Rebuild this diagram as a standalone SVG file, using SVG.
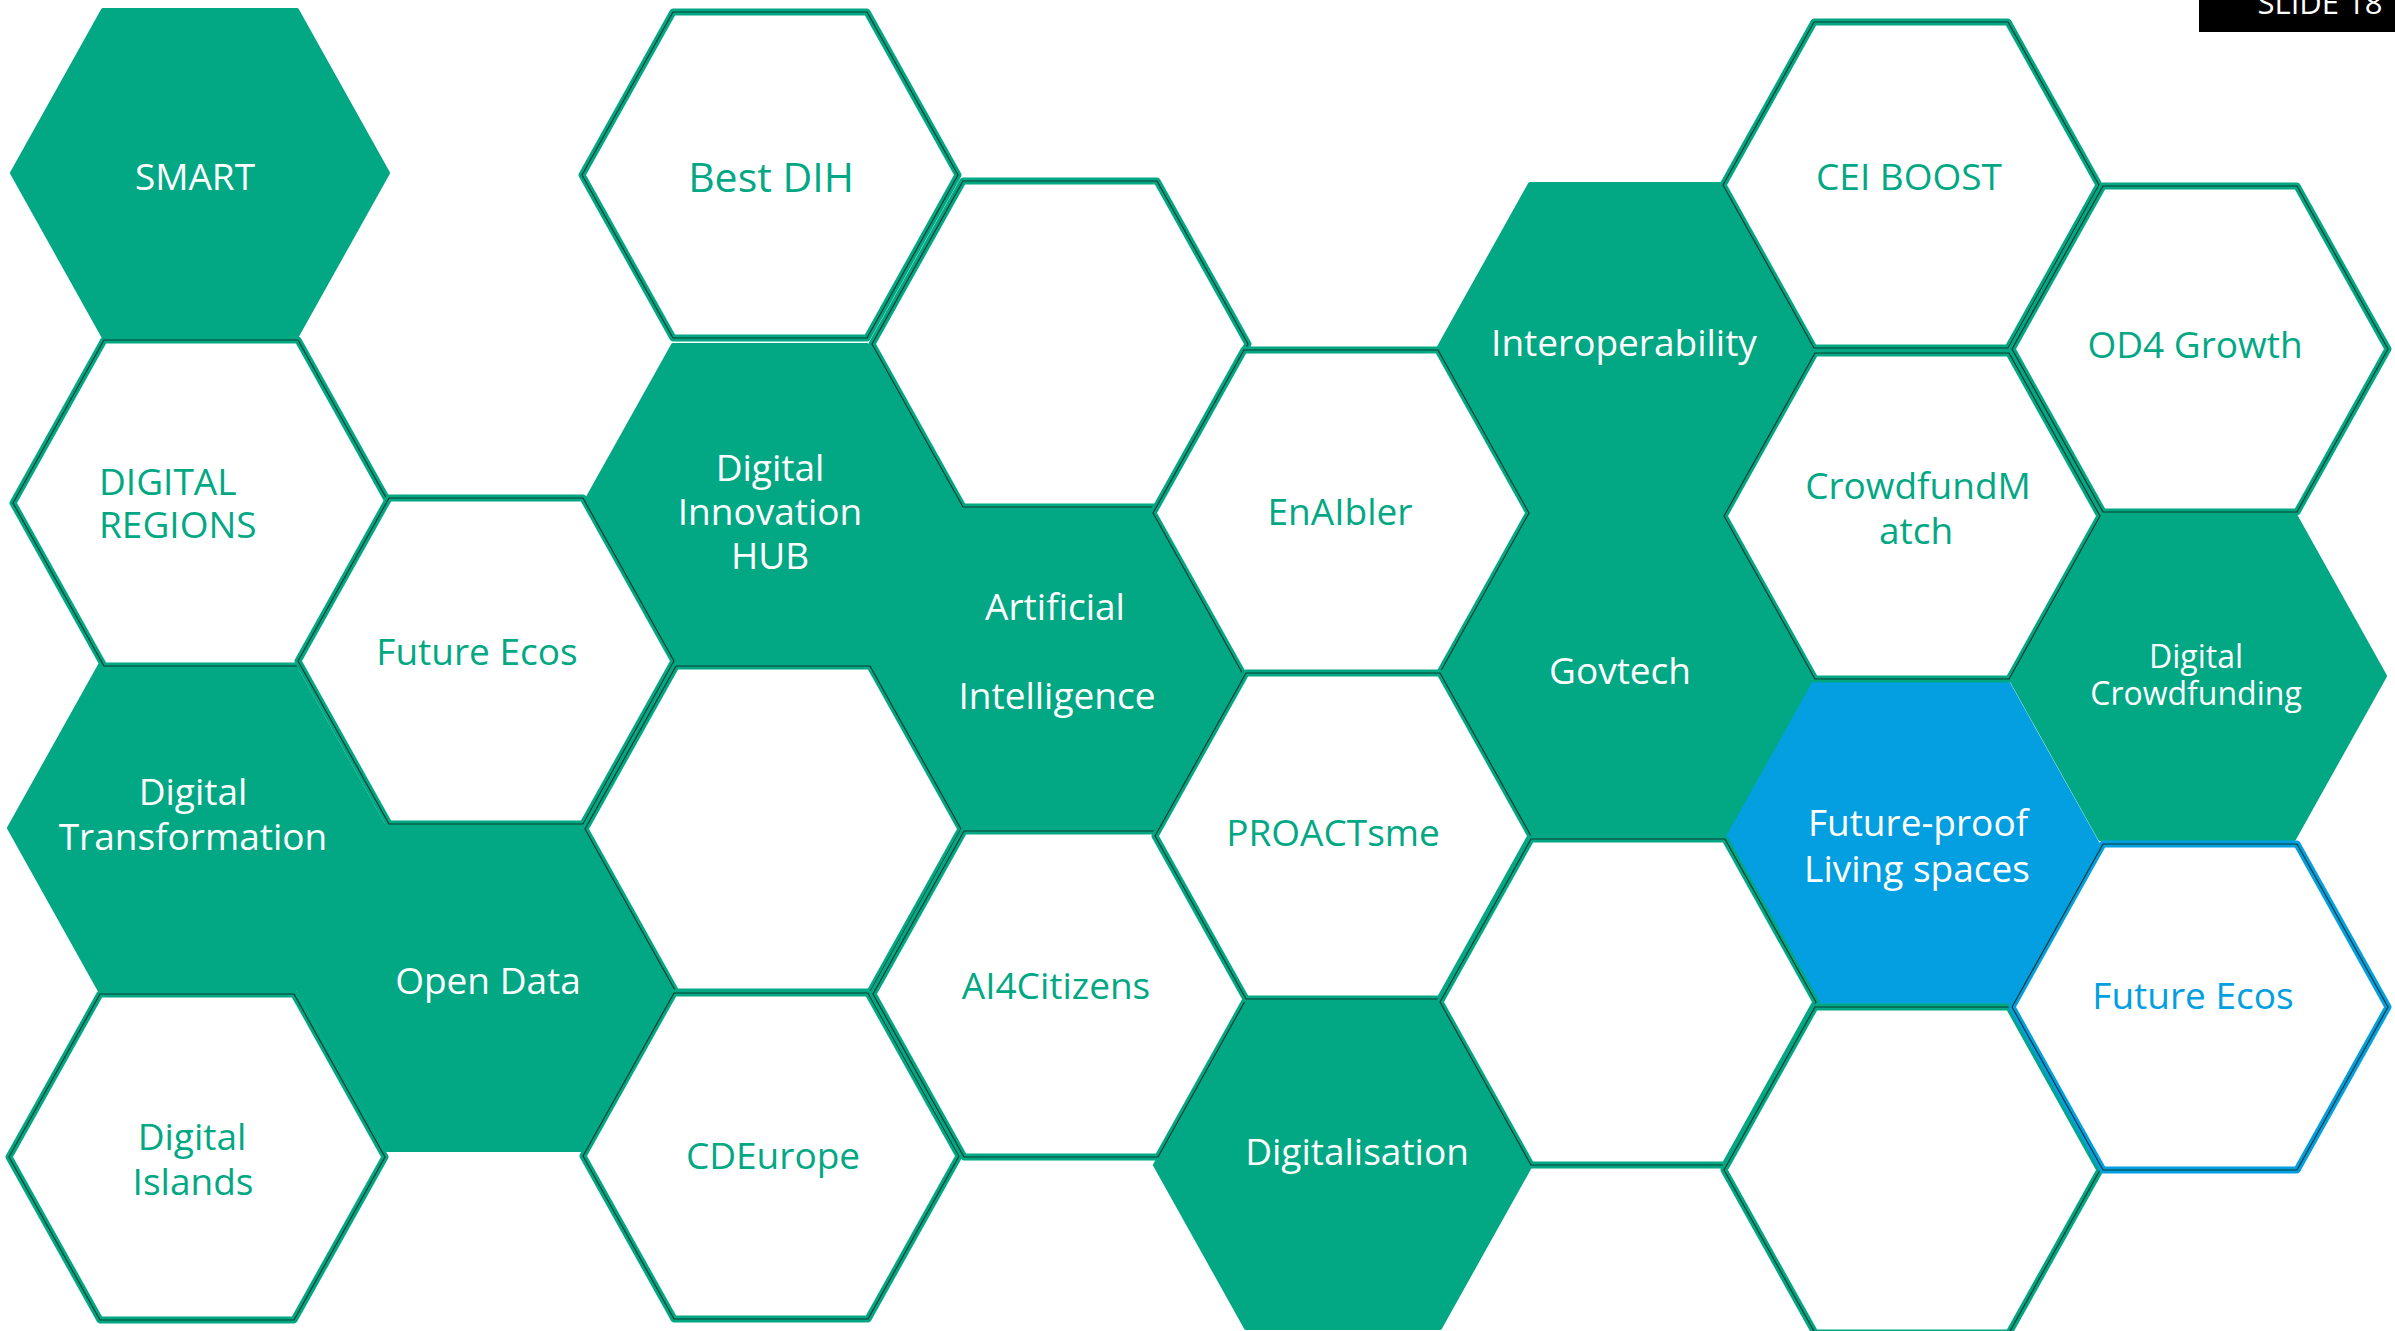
<svg xmlns="http://www.w3.org/2000/svg" xmlns:xlink="http://www.w3.org/1999/xlink" width="2395" height="1331" viewBox="0 0 2395 1331">
<style>
  text { font-family: "Open Sans", "Noto Sans", "Liberation Sans", sans-serif; font-size: 37px; text-anchor: middle; }
  .fill { fill: #02A884; stroke: #02A884; stroke-width: 4; stroke-linejoin: round; }
  .fillblue { fill: #039FE1; stroke: #039FE1; stroke-width: 4; stroke-linejoin: round; }
  .out { fill: #FFFFFF; stroke: #02A884; stroke-width: 7; stroke-linejoin: round; }
  .outblue { fill: #FFFFFF; stroke: #039FE1; stroke-width: 7; stroke-linejoin: round; }
  .hair { fill: none; stroke: #0E3A2E; stroke-width: 1.2; stroke-linejoin: round; }
  .w { fill: #FFFFFF; }
  .g { fill: #02A884; }
  .b { fill: #039FE1; }
</style>
<defs>
  <polygon id="hex" points="-188,0 -97,-163 97,-163 188,0 97,163 -97,163"/>
</defs>
<rect width="2395" height="1331" fill="#FFFFFF"/>

<!-- filled hexagons -->
<g id="smart"><use xlink:href="#hex" x="200" y="173" class="fill"/><text x="195" y="190" class="w">SMART</text></g>
<g id="digital-transformation"><use xlink:href="#hex" x="197" y="828" class="fill"/><text x="193" y="805" class="w">Digital</text><text x="193" y="850" class="w">Transformation</text></g>
<g id="open-data"><use xlink:href="#hex" x="484" y="987" class="fill"/><text x="488" y="994" class="w">Open Data</text></g>
<g id="digital-innovation-hub"><use xlink:href="#hex" x="770" y="508" class="fill"/><text x="770" y="481" class="w">Digital</text><text x="770" y="525" class="w">Innovation</text><text x="770" y="569" class="w">HUB</text></g>
<g id="artificial-intelligence"><use xlink:href="#hex" x="1059" y="668" class="fill"/><text x="1055" y="620" class="w">Artificial</text><text x="1057" y="709" class="w">Intelligence</text></g>
<g id="digitalisation"><use xlink:href="#hex" x="1343" y="1165" class="fill"/><text x="1357" y="1165" class="w">Digitalisation</text></g>
<g id="interoperability"><use xlink:href="#hex" x="1627" y="347" class="fill"/><text x="1624" y="356" class="w">Interoperability</text></g>
<g id="govtech"><use xlink:href="#hex" x="1627" y="677" class="fill"/><text x="1620" y="684" class="w">Govtech</text></g>
<g id="digital-crowdfunding"><use xlink:href="#hex" x="2197" y="676" class="fill"/><text x="2196" y="668" class="w" style="font-size:32px">Digital</text><text x="2196" y="705" class="w" style="font-size:32px">Crowdfunding</text></g>
<g id="future-proof-living-spaces"><use xlink:href="#hex" x="1911" y="846" class="fillblue"/><text x="1918" y="836" class="w">Future-proof</text><text x="1917" y="882" class="w">Living spaces</text></g>

<!-- outlined hexagons -->
<g id="digital-regions"><use xlink:href="#hex" x="201" y="503" class="out"/><use xlink:href="#hex" x="201" y="503" class="hair"/><text x="99" y="495" class="g" style="text-anchor:start">DIGITAL</text><text x="99" y="538" class="g" style="text-anchor:start">REGIONS</text></g>
<g id="digital-islands"><use xlink:href="#hex" x="197" y="1157" class="out"/><use xlink:href="#hex" x="197" y="1157" class="hair"/><text x="192" y="1150" class="g">Digital</text><text x="193" y="1195" class="g">Islands</text></g>
<g id="future-ecos-1"><use xlink:href="#hex" x="486" y="661" class="out"/><use xlink:href="#hex" x="486" y="661" class="hair"/><text x="477" y="665" class="g">Future Ecos</text></g>
<g id="best-dih"><use xlink:href="#hex" x="770" y="175" class="out"/><use xlink:href="#hex" x="770" y="175" class="hair"/><text x="771" y="192" class="g" style="font-size:41px">Best DIH</text></g>
<g id="empty-col3"><use xlink:href="#hex" x="773" y="829" class="out"/><use xlink:href="#hex" x="773" y="829" class="hair"/></g>
<g id="cdeurope"><use xlink:href="#hex" x="771" y="1156" class="out"/><use xlink:href="#hex" x="771" y="1156" class="hair"/><text x="773" y="1169" class="g">CDEurope</text></g>
<g id="empty-col4"><use xlink:href="#hex" x="1060" y="344" class="out"/><use xlink:href="#hex" x="1060" y="344" class="hair"/></g>
<g id="ai4citizens"><use xlink:href="#hex" x="1061" y="994" class="out"/><use xlink:href="#hex" x="1061" y="994" class="hair"/><text x="1056" y="999" class="g">AI4Citizens</text></g>
<g id="enaibler"><use xlink:href="#hex" x="1341" y="513" class="out"/><use xlink:href="#hex" x="1341" y="513" class="hair"/><text x="1340" y="525" class="g">EnAIbler</text></g>
<g id="proactsme"><use xlink:href="#hex" x="1343" y="836" class="out"/><use xlink:href="#hex" x="1343" y="836" class="hair"/><text x="1333" y="846" class="g">PROACTsme</text></g>
<g id="empty-col6"><use xlink:href="#hex" x="1628" y="1002" class="out"/><use xlink:href="#hex" x="1628" y="1002" class="hair"/></g>
<g id="cei-boost"><use xlink:href="#hex" x="1911" y="185" class="out"/><use xlink:href="#hex" x="1911" y="185" class="hair"/><text x="1909" y="190" class="g">CEI BOOST</text></g>
<g id="crowdfundmatch"><use xlink:href="#hex" x="1912" y="516" class="out"/><use xlink:href="#hex" x="1912" y="516" class="hair"/><text x="1918" y="499" class="g">CrowdfundM</text><text x="1916" y="544" class="g">atch</text></g>
<g id="empty-col7"><use xlink:href="#hex" x="1912" y="1170" class="out"/><use xlink:href="#hex" x="1912" y="1170" class="hair"/></g>
<g id="od4-growth"><use xlink:href="#hex" x="2200" y="349" class="out"/><use xlink:href="#hex" x="2200" y="349" class="hair"/><text x="2195" y="358" class="g">OD4 Growth</text></g>
<g id="future-ecos-2"><use xlink:href="#hex" x="2200" y="1007" class="outblue"/><use xlink:href="#hex" x="2200" y="1007" class="hair"/><text x="2193" y="1009" class="b">Future Ecos</text></g>

<g id="connectors"></g>

<g id="slide-label"><rect x="2199" y="0" width="196" height="32" fill="#000000"/><text x="2320" y="14" class="w" style="font-size:31px">SLIDE 18</text></g>
</svg>
